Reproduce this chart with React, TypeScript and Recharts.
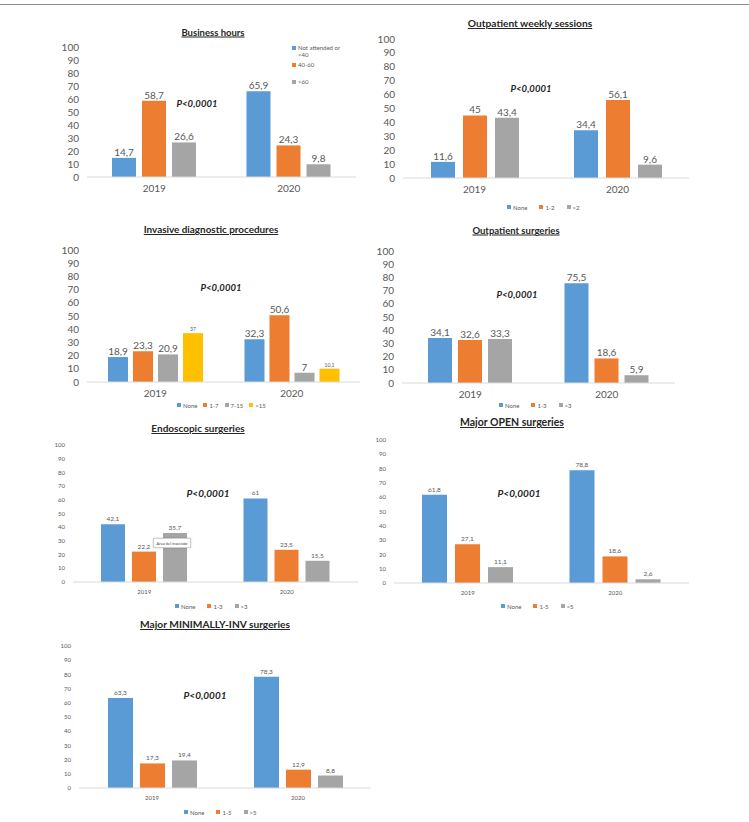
import React from "react"
import { Bar, BarChart, XAxis, YAxis, LabelList } from "recharts"

const years = ["2019", "2020"]
const yTicks = [0, 10, 20, 30, 40, 50, 60, 70, 80, 90, 100]
const palette = ["#5B9BD5", "#ED7D31", "#A5A5A5", "#FFC000"]

const businessSeries = ["Not attended or <40", "40-60", ">60"]
const business2019 = [14.7, 58.7, 26.6]
const business2020 = [65.9, 24.3, 9.8]

const sessionsSeries = ["None", "1-2", ">2"]
const sessions2019 = [11.6, 45, 43.4]
const sessions2020 = [34.4, 56.1, 9.6]

const invasiveSeries = ["None", "1-7", "7-15", ">15"]
const invasive2019 = [18.9, 23.3, 20.9, 37]
const invasive2020 = [32.3, 50.6, 7, 10.1]

const outSurgSeries = ["None", "1-3", ">3"]
const outSurg2019 = [34.1, 32.6, 33.3]
const outSurg2020 = [75.5, 18.6, 5.9]

const endoSeries = ["None", "1-3", ">3"]
const endo2019 = [42.1, 22.2, 35.7]
const endo2020 = [61, 23.5, 15.5]

const openSeries = ["None", "1-5", ">5"]
const open2019 = [61.8, 27.1, 11.1]
const open2020 = [78.8, 18.6, 2.6]

const minSeries = ["None", "1-5", ">5"]
const min2019 = [63.3, 17.3, 19.4]
const min2020 = [78.3, 12.9, 8.8]

const pText = "P<0,0001"

const fmt = (v: any) => String(v).replace(".", ",")

function buildRows(series: string[], a: number[], b: number[]) {
  return years.map((year, i) => {
    const vals = i === 0 ? a : b
    const row: any = { year }
    series.forEach((_, j) => (row["s" + j] = vals[j]))
    return row
  })
}

const FONT = "Lato, 'Open Sans', sans-serif"
const YW = 40
const MT = 10
const XH = 25

function Panel(p: any) {
  const { series, a, b, title, box, barSize, barGap, tickFont, labelFont, labelOffset, titlePos, titleFont, pPos, pFont, legend, smallLabel } = p
  const rows = buildRows(series, a, b)
  const W = box.x1 - box.x0 + YW
  const H = box.yBot - box.yTop + MT + XH
  return (
    <>
      <div style={{ position: "absolute", left: box.x0 - YW, top: box.yTop - MT }}>
        <BarChart width={W} height={H} data={rows} margin={{ top: MT, right: 0, left: 0, bottom: 0 }} barSize={barSize} barGap={barGap}>
          <XAxis dataKey="year" height={XH} tickLine={false} axisLine={{ stroke: "#D9D9D9" }} tick={{ fill: "#595959", fontSize: tickFont, fontFamily: FONT }} />
          <YAxis width={YW} domain={[0, 100]} ticks={yTicks} interval={0} tickLine={false} axisLine={false} tick={{ fill: "#595959", fontSize: tickFont, fontFamily: FONT }} />
          {series.map((s: string, j: number) => (
            <Bar key={s} dataKey={"s" + j} name={s} fill={palette[j]} isAnimationActive={false}>
              <LabelList
                dataKey={"s" + j}
                position="top"
                offset={labelOffset}
                formatter={fmt}
                style={{ fill: "#595959", fontSize: smallLabel === j ? 5 : labelFont, fontFamily: FONT }}
              />
            </Bar>
          ))}
        </BarChart>
      </div>
      <div style={{ position: "absolute", left: titlePos[0], top: titlePos[1], transform: "translate(-50%,-50%)", whiteSpace: "nowrap", fontWeight: 700, textDecoration: "underline", fontSize: titleFont, color: "#262626" }}>
        {title}
      </div>
      <div style={{ position: "absolute", left: pPos[0], top: pPos[1], transform: "translate(-50%,-50%)", whiteSpace: "nowrap", fontWeight: 700, fontStyle: "italic", fontSize: pFont, color: "#262626" }}>
        {pText}
      </div>
      {legend && (
        <div style={{ position: "absolute", left: legend[0], top: legend[1] - 4, height: 8, display: "flex", alignItems: "center", gap: legend[2], fontSize: 6, color: "#595959", whiteSpace: "nowrap" }}>
          {series.map((s: string, j: number) => (
            <div key={s} style={{ display: "flex", alignItems: "center", gap: 2 }}>
              <span style={{ width: 4, height: 4, background: palette[j], display: "inline-block" }} />
              <span>{s}</span>
            </div>
          ))}
        </div>
      )}
    </>
  )
}

export default function App() {
  return (
    <div style={{ position: "absolute", left: 0, top: 0, width: 749, height: 822, background: "#fff", fontFamily: FONT, overflow: "hidden" }}>
      <div style={{ position: "absolute", left: 0, top: 4, width: 749, height: 1, background: "#8C8C8C" }} />

      <Panel series={businessSeries} a={business2019} b={business2020} title="Business hours"
        box={{ x0: 87, x1: 356, yTop: 47, yBot: 177 }} barSize={24} barGap={6} tickFont={10} labelFont={10} labelOffset={2}
        titlePos={[213, 32]} titleFont={9.5} pPos={[197, 103]} pFont={9.5} />
      <div style={{ position: "absolute", left: 292, top: 44, fontSize: 6, color: "#595959", lineHeight: "7px" }}>
        {businessSeries.map((s, j) => (
          <div key={s} style={{ position: "absolute", left: 0, top: [0, 17, 34][j], display: "flex", alignItems: "flex-start", gap: 2, whiteSpace: "nowrap" }}>
            <span style={{ width: 4, height: 4, background: palette[j], display: "inline-block", marginTop: 2 }} />
            <span style={{ width: j === 0 ? 48 : undefined, whiteSpace: j === 0 ? "normal" : "nowrap" }}>{s}</span>
          </div>
        ))}
      </div>

      <Panel series={sessionsSeries} a={sessions2019} b={sessions2020} title="Outpatient weekly sessions"
        box={{ x0: 403, x1: 689, yTop: 39, yBot: 178 }} barSize={24} barGap={8} tickFont={10} labelFont={10} labelOffset={2}
        titlePos={[530, 23]} titleFont={10.2} pPos={[531, 88]} pFont={9.5} legend={[507, 207, 12]} />

      <Panel series={invasiveSeries} a={invasive2019} b={invasive2020} title="Invasive diagnostic procedures"
        box={{ x0: 87, x1: 360, yTop: 250, yBot: 382 }} barSize={20} barGap={5} tickFont={10} labelFont={10} labelOffset={2}
        titlePos={[211, 229]} titleFont={9.9} pPos={[221, 287]} pFont={9.5} legend={[177, 405, 6]} smallLabel={3} />

      <Panel series={outSurgSeries} a={outSurg2019} b={outSurg2020} title="Outpatient surgeries"
        box={{ x0: 402, x1: 675, yTop: 251, yBot: 383 }} barSize={24} barGap={6} tickFont={10} labelFont={10} labelOffset={2}
        titlePos={[516, 230]} titleFont={9.5} pPos={[517, 294]} pFont={9.5} legend={[499, 405, 12]} />

      <Panel series={endoSeries} a={endo2019} b={endo2020} title="Endoscopic surgeries"
        box={{ x0: 73, x1: 358, yTop: 445, yBot: 582 }} barSize={24} barGap={7} tickFont={6} labelFont={6.5} labelOffset={3}
        titlePos={[198, 428]} titleFont={10} pPos={[208, 493]} pFont={10} legend={[175, 606, 12]} />
      <div style={{ position: "absolute", left: 153, top: 538, width: 36, height: 8, background: "#fff", border: "1px solid #D0D0D0", boxShadow: "0 0 2px rgba(0,0,0,0.2)", fontSize: 4, color: "#404040", display: "flex", alignItems: "center", justifyContent: "center", whiteSpace: "nowrap" }}>
        Area del tracciato
      </div>

      <Panel series={openSeries} a={open2019} b={open2020} title="Major OPEN surgeries"
        box={{ x0: 394, x1: 689, yTop: 440, yBot: 583 }} barSize={25} barGap={8} tickFont={6} labelFont={6.5} labelOffset={3}
        titlePos={[512, 422]} titleFont={10.5} pPos={[519, 493]} pFont={10} legend={[501, 606, 12]} />

      <Panel series={minSeries} a={min2019} b={min2020} title="Major MINIMALLY-INV surgeries"
        box={{ x0: 79, x1: 371, yTop: 646, yBot: 788 }} barSize={25} barGap={7} tickFont={6} labelFont={6.5} labelOffset={3}
        titlePos={[215, 624]} titleFont={10.2} pPos={[205, 695]} pFont={10} legend={[184, 812, 12]} />
    </div>
  )
}
